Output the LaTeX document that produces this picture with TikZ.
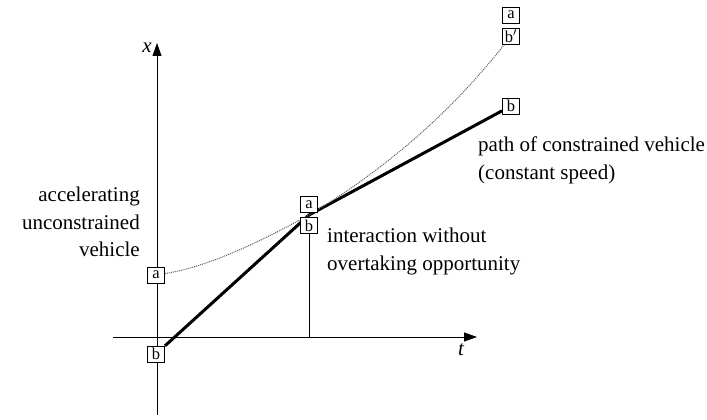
\documentclass[tikz,border=0pt]{standalone}
\usepackage{fontspec}
\setmainfont{Liberation Serif}
\usetikzlibrary{arrows.meta,positioning,backgrounds}

\begin{document}
\begin{tikzpicture}[x=1pt, y=-1pt,
  veh/.style={draw, fill=white, line width=0.9pt, minimum width=17pt, minimum height=16pt,
              inner sep=1pt, font=\fontsize{16.5}{16.5}\selectfont},
  lbl/.style={inner sep=0pt, font=\fontsize{21}{27.5}\selectfont},
  axis/.style={line width=0.9pt, -{Triangle[length=13pt,width=9pt]}},
  path b/.style={line width=3pt, line join=round},
  path a/.style={line width=1pt, black!65, densely dotted}]
\useasboundingbox (0,0) rectangle (707,420);
% axes
\coordinate (xlo) at (157,415);
\coordinate (xhi) at (157,43);
\coordinate (tlo) at (113,337);
\coordinate (thi) at (477,337);
\draw[axis] (xlo) -- (xhi);
\draw[axis] (tlo) -- (thi);
\node[lbl, font=\fontsize{21}{21}\selectfont\itshape] (xl) at (147,48) {x};
\node[lbl, font=\fontsize{21}{21}\selectfont\itshape] (tl) at (461,350) {t};
% vehicles
\coordinate (meet) at (309,215);
\node[veh] (aL) at (156,275) {a};
\node[veh] (bL) at (156,354) {b};
\node[veh, above=2pt of meet] (aM) {a};
\node[veh, below=2pt of meet] (bM) {b};
\node[veh] (bpR) at (511,36) {b$'$};
\node[veh, above=4pt of bpR] (aR) {a};
\node[veh] (bR) at (511,106) {b};
\begin{scope}[on background layer]
  \draw[path b] (bL) -- (meet) -- (bR);
  \draw[path a] (aL) .. controls (207,267) and (258,243) .. (meet)
                     .. controls (376,175) and (444,121) .. (bpR);
\end{scope}
\draw[line width=0.9pt] (bM.south) -- (bM.south |- tlo);
% labels
\node[lbl, align=right, anchor=north east] (accel) at (140,187)
  {accelerating\\unconstrained\\vehicle};
\node[lbl, align=left, anchor=north west] (inter) at (327,228)
  {interaction without\\overtaking opportunity};
\node[lbl, align=left, anchor=north west] (constr) at (478,137)
  {path of constrained vehicle\\(constant speed)};
\end{tikzpicture}
\end{document}
